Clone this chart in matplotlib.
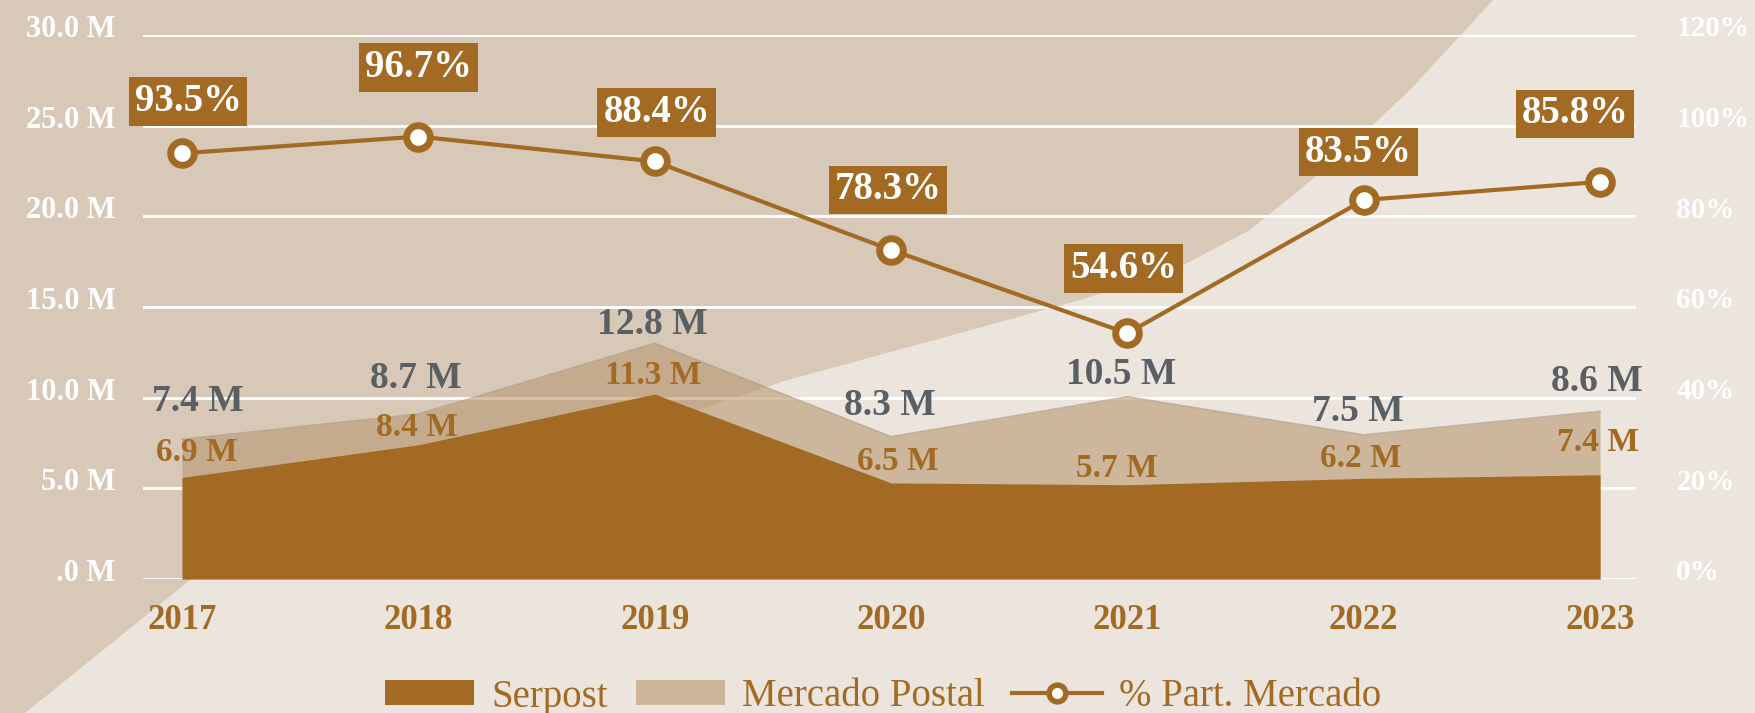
import matplotlib
matplotlib.use("Agg")
import matplotlib.pyplot as plt
from matplotlib.patches import Patch, Polygon
from matplotlib.lines import Line2D
import matplotlib.transforms as mtransforms

# --- data (millions / percent) ---
years = ["2017", "2018", "2019", "2020", "2021", "2022", "2023"]
serpost_area = [5.6, 7.4, 10.2, 5.3, 5.2, 5.55, 5.75]
mercado_area = [7.7, 9.1, 13.0, 7.85, 10.05, 7.95, 9.25]
serpost_labels = [6.9, 8.4, 11.3, 6.5, 5.7, 6.2, 7.4]
mercado_labels = [7.4, 8.7, 12.8, 8.3, 10.5, 7.5, 8.6]
share_line = [93.9, 97.6, 92.1, 72.6, 54.2, 83.6, 87.6]
share_labels = [93.5, 96.7, 88.4, 78.3, 54.6, 83.5, 85.8]

left_ticks = [0, 5, 10, 15, 20, 25, 30]
left_ticklabels = [".0 M", "5.0 M", "10.0 M", "15.0 M", "20.0 M", "25.0 M", "30.0 M"]
right_ticks = [0, 20, 40, 60, 80, 100, 120]
right_ticklabels = ["0%", "20%", "40%", "60%", "80%", "100%", "120%"]

# label offsets in pixels (layout only)
share_off = [(6, 52), (0, 69), (2, 49), (-3, 60), (-4, 65), (-5, 48), (-25, 68)]
mercado_off = [(16, 38), (-2, 35), (-2, 19), (-1, 31), (-6, 22), (-6, 23), (-3, 30)]
serpost_off = [(15, 25), (-1, 17), (-2, 19), (7, 21), (-11, 16), (-3, 20), (-2, 32)]

BROWN = "#a36a24"
TAN = "#b8976e"
GRAY = "#5a5f64"
BG_DARK = "#d8c8b8"
BG_LIGHT = "#ebe5dd"

plt.rcParams["font.family"] = ["Liberation Serif", "DejaVu Serif"]

fig = plt.figure(figsize=(17.56, 7.13), dpi=100)
fig.patch.set_facecolor(BG_DARK)

# lighter paper region in the lower right
W, H = 1756.0, 713.0
pts = [(25, 713), (190, 580), (500, 478), (784, 381), (960, 333), (1080, 300),
       (1170, 272), (1250, 230), (1330, 165), (1410, 90), (1493, 0),
       (1756, 0), (1756, 713)]
fig.add_artist(Polygon([(x / W, 1 - y / H) for x, y in pts], closed=True,
                       transform=fig.transFigure, facecolor=BG_LIGHT,
                       edgecolor="none", zorder=-5))

ax = fig.add_axes([143.5 / W, 1 - 579 / H, (1636 - 143.5) / W, (579 - 35) / H])
ax.patch.set_alpha(0)
x = list(range(len(years)))

ax.fill_between(x, 0, mercado_area, color=TAN, alpha=0.58, lw=0, zorder=1)
ax.plot(x, mercado_area, color="#a89580", alpha=0.6, lw=1.2, zorder=1)
ax.fill_between(x, 0, serpost_area, color=BROWN, lw=0, zorder=2)

ax.set_xlim(-0.163, 6.152)
ax.set_ylim(0, 30)
ax.set_yticks(left_ticks)
ax.set_yticklabels(left_ticklabels, color="white", fontsize=22, fontweight="bold")
ax.set_xticks(x)
ax.set_xticklabels(years, color=BROWN, fontsize=25, fontweight="bold")
ax.tick_params(axis="y", length=0, pad=20)
ax.tick_params(axis="x", length=0, pad=18)
ax.yaxis.grid(True, color="white", lw=2)
ax.set_axisbelow(True)
for s in ax.spines.values():
    s.set_visible(False)

for i in x:
    dx, dy = mercado_off[i]
    ax.annotate(f"{mercado_labels[i]:.1f} M", (i, mercado_area[i]), xytext=(dx, dy),
                textcoords="offset pixels", ha="center", va="center",
                color=GRAY, fontsize=27, fontweight="bold", zorder=5)
    dx, dy = serpost_off[i]
    ax.annotate(f"{serpost_labels[i]:.1f} M", (i, serpost_area[i]), xytext=(dx, dy),
                textcoords="offset pixels", ha="center", va="center",
                color=BROWN, fontsize=24, fontweight="bold", zorder=5)

ax2 = ax.twinx()
ax2.patch.set_alpha(0)
ax2.set_ylim(0, 120)
ax2.set_yticks(right_ticks)
ax2.set_yticklabels(right_ticklabels, color="white", fontsize=21, fontweight="bold")
ax2.tick_params(axis="y", length=0, pad=29)
for s in ax2.spines.values():
    s.set_visible(False)

ax2.plot(x, share_line, color=BROWN, lw=3, marker="o", ms=17, mfc="white",
         mec=BROWN, mew=5, zorder=4)
for i in x:
    dx, dy = share_off[i]
    ax2.annotate(f"{share_labels[i]:.1f}%", (i, share_line[i]), xytext=(dx, dy),
                 textcoords="offset pixels", ha="center", va="center",
                 color="white", fontsize=28, fontweight="bold", zorder=6,
                 bbox=dict(boxstyle="square,pad=0.15", fc=BROWN, ec="none"))

# nudge tick labels up a bit so they sit on the gridlines
shift = mtransforms.ScaledTranslation(0, 9 / 100, fig.dpi_scale_trans)
for lab in ax.get_yticklabels() + ax2.get_yticklabels():
    lab.set_transform(lab.get_transform() + shift)

handles = [
    Patch(facecolor=BROWN, edgecolor="none"),
    Patch(facecolor=TAN, alpha=0.6, edgecolor="none"),
    Line2D([], [], color=BROWN, lw=3, marker="o", ms=12, mfc="white", mec=BROWN, mew=4),
]
fig.legend(handles, ["Serpost", "Mercado Postal", "% Part. Mercado"],
           loc="center", bbox_to_anchor=(0.503, 1 - 697 / H), ncol=3, frameon=False,
           fontsize=28, labelcolor=BROWN, handlelength=2.3, handleheight=0.6,
           handletextpad=0.45, columnspacing=0.7)

fig.savefig("out.png", dpi=100, facecolor=fig.get_facecolor())
